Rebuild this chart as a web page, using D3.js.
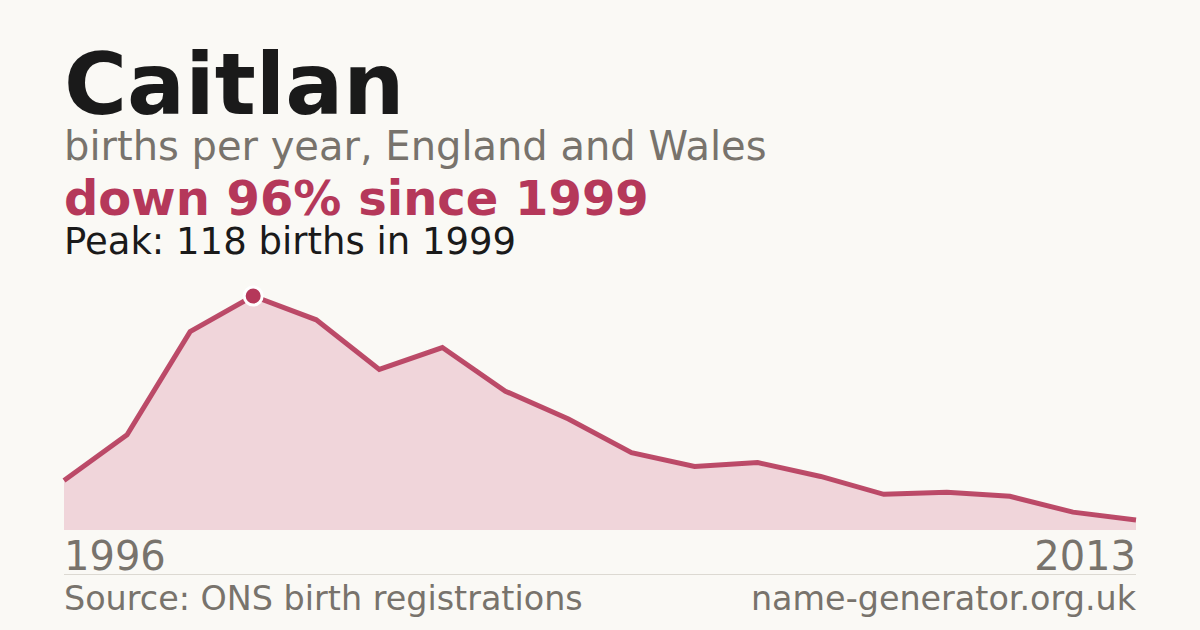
<!DOCTYPE html>
<html>
<head>
<meta charset="utf-8">
<script src="https://cdn.jsdelivr.net/npm/d3@7"></script>
<style>
  body { margin: 0; background: #faf9f5; }
  svg { display: block; font-family: "DejaVu Sans", sans-serif; }
</style>
</head>
<body>
<svg width="1200" height="630"></svg>
<script>
// data
var years = [1996, 1997, 1998, 1999, 2000, 2001, 2002, 2003, 2004, 2005,
             2006, 2007, 2008, 2009, 2010, 2011, 2012, 2013];
var births = [25, 48, 100, 118, 106, 81, 92, 70, 56, 39,
              32, 34, 27, 18, 19, 17, 9, 5];
var tickLabels = ["1996", "2013"];

var accent = "#b5385a";
var grey = "#78736c";

var svg = d3.select("svg");
svg.append("rect").attr("width", 1200).attr("height", 630).attr("fill", "#faf9f5");

// header texts
svg.append("text").attr("x", 64).attr("y", 114)
  .attr("font-size", 86).attr("font-weight", "bold").attr("fill", "#1a1a1a")
  .text("Caitlan");
svg.append("text").attr("x", 64).attr("y", 160)
  .attr("font-size", 40).attr("fill", grey)
  .text("births per year, England and Wales");

var peakIdx = d3.maxIndex(births);
var drop = Math.round((1 - births[births.length - 1] / births[peakIdx]) * 100);
svg.append("text").attr("x", 64).attr("y", 215)
  .attr("font-size", 48).attr("font-weight", "bold").attr("fill", accent)
  .text("down " + drop + "% since " + years[peakIdx]);
svg.append("text").attr("x", 64).attr("y", 254)
  .attr("font-size", 37).attr("fill", "#1a1a1a")
  .text("Peak: " + births[peakIdx] + " births in " + years[peakIdx]);

// scales
var x = d3.scaleLinear().domain(d3.extent(years)).range([64, 1136]);
var y = d3.scaleLinear().domain([0, d3.max(births)]).range([530, 296]);

var area = d3.area()
  .x(function(d, i) { return x(years[i]); })
  .y0(y(0))
  .y1(function(d) { return y(d); });
var line = d3.line()
  .x(function(d, i) { return x(years[i]); })
  .y(function(d) { return y(d); });

svg.append("path").datum(births).attr("d", area).attr("fill", "#f0d5da");
svg.append("path").datum(births).attr("d", line)
  .attr("fill", "none").attr("stroke", accent).attr("stroke-width", 5)
  .attr("stroke-linejoin", "miter").attr("stroke-opacity", 0.9);

// peak marker
svg.append("circle")
  .attr("cx", x(years[peakIdx])).attr("cy", y(births[peakIdx])).attr("r", 9)
  .attr("fill", accent).attr("stroke", "#ffffff").attr("stroke-width", 3);

// axis labels
svg.append("text").attr("x", x(years[0])).attr("y", 570)
  .attr("font-size", 40).attr("fill", grey).text(tickLabels[0]);
svg.append("text").attr("x", x(years[years.length - 1])).attr("y", 570)
  .attr("font-size", 40).attr("fill", grey).attr("text-anchor", "end").text(tickLabels[1]);

// divider and footer
svg.append("line").attr("x1", 64).attr("x2", 1136).attr("y1", 574.5).attr("y2", 574.5)
  .attr("stroke", "#dcd9d2").attr("stroke-width", 1);
svg.append("text").attr("x", 64).attr("y", 610)
  .attr("font-size", 33.4).attr("fill", grey).text("Source: ONS birth registrations");
svg.append("text").attr("x", 1136).attr("y", 610)
  .attr("font-size", 33.4).attr("fill", grey).attr("text-anchor", "end").text("name-generator.org.uk");
</script>
</body>
</html>
